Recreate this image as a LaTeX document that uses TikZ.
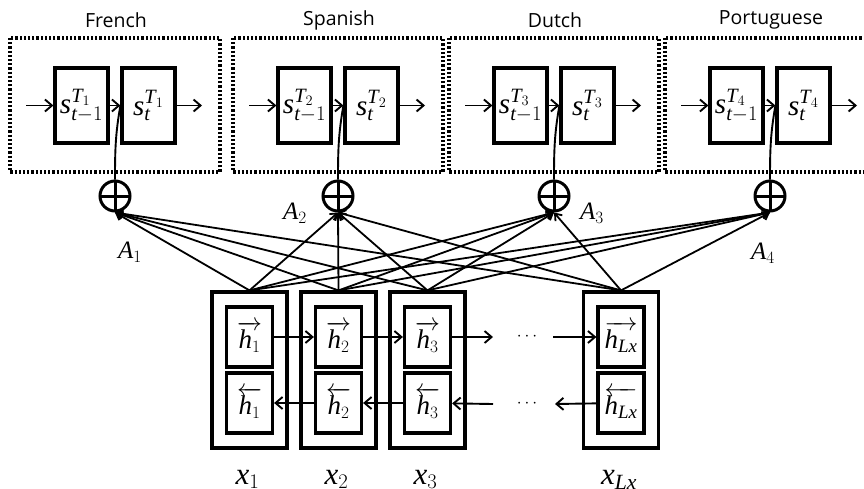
\documentclass[tikz,border=0pt]{standalone}
\usepackage{fontspec}
\setmainfont{Liberation Serif}
\setsansfont{Open Sans}
\usetikzlibrary{arrows.meta}
\tikzset{
  cell/.style={draw, line width=3.2pt, minimum width=53pt, minimum height=75pt, inner sep=0pt, font=\fontsize{29}{30}\selectfont},
  hcell/.style={draw, line width=3.2pt, minimum width=46pt, minimum height=60pt, inner sep=0pt, font=\fontsize{27}{28}\selectfont},
  col/.style={draw, line width=3.2pt, minimum width=75pt, minimum height=156pt, inner sep=0pt},
  langbox/.style={dash pattern=on 2.2pt off 2pt, line width=3.2pt},
  adder/.style={circle, draw, line width=3pt, minimum size=30pt, inner sep=0pt,
    path picture={\draw[line width=3pt] (path picture bounding box.north) -- (path picture bounding box.south)
      (path picture bounding box.west) -- (path picture bounding box.east);}},
  link/.style={line width=1.9pt, -{Straight Barb[length=7pt,width=12pt]}},
  attn/.style={line width=1.8pt, -{Straight Barb[length=6pt,width=9pt]}},
  mlabel/.style={font=\fontsize{25}{28}\selectfont},
}
\begin{document}
\begin{tikzpicture}[x=1pt,y=-1pt]
\useasboundingbox (0,0) rectangle (864,488);
\foreach \g/\lname/\i in {115/French/1, 338/Spanish/2, 554/Dutch/3, 770/Portuguese/4}{ % edit here for the decoders
  \draw[langbox] (\g-105,38) rectangle (\g+105,172);
  \node[font=\sffamily\fontsize{19.5}{22}\selectfont] (l\i) at (\g+1,20) {\lname};
  \node[cell] (sp\i) at (\g-33.5,105.5) {$\mathit{s}^{\mathit{T}_\i}_{\mathit{t}-1}$};
  \node[cell] (st\i) at (\g+33.5,105.5) {$\mathit{s}^{\mathit{T}_\i}_{\mathit{t}}$};
  \node[adder] (o\i) at (\g,196) {};
  \coordinate (in\i) at (\g-89,105.5);
  \coordinate (out\i) at (\g+87,105.5);
  \draw[link] (in\i) -- (sp\i);
  \draw[link] (sp\i) -- (st\i);
  \draw[link] (st\i) -- (out\i);
  \draw[line width=1.9pt] (o\i.north) to[out=90,in=-100] (st\i.west);
}
\foreach \x/\k/\s in {249.5/1/1, 338.5/2/2, 427.5/3/3, 621/L/\mathit{Lx}}{ % edit here for the encoder
  \node[col] (c\k) at (\x,370) {};
  \node[hcell] (hf\k) at (\x,337) {$\overrightarrow{\mathit{h}_{\s}}$};
  \node[hcell] (hb\k) at (\x,403) {$\overleftarrow{\mathit{h}_{\s}}$};
  \node[font=\fontsize{31}{32}\selectfont, anchor=base] (x\k) at (\x-2,484) {$\mathit{x}_{\s}$};
}
\node[font=\fontsize{17}{18}\selectfont] (d1) at (527,337) {$\cdots$};
\node[font=\fontsize{17}{18}\selectfont] (d2) at (527,404) {$\cdots$};
\coordinate (fa) at (493,337);
\coordinate (fb) at (553,337);
\coordinate (ba) at (493,404);
\coordinate (bb) at (555,404);
\draw[link] (hf1) -- (hf2);
\draw[link] (hf2) -- (hf3);
\draw[link] (hf3) -- (fa);
\draw[link] (fb) -- (hfL);
\draw[link] (hb2) -- (hb1);
\draw[link] (hb3) -- (hb2);
\draw[link] (ba) -- (hb3);
\draw[link] (hbL) -- (bb);
\foreach \k in {1,2,3,L} % edit here for the attention links
  \foreach \i in {1,...,4}
    \draw[attn] (c\k.north) -- (o\i.south);
\node[mlabel] (a1) at (130,252) {$\mathit{A}_1$};
\node[mlabel] (a2) at (295,213) {$\mathit{A}_2$};
\node[mlabel] (a3) at (592,213) {$\mathit{A}_3$};
\node[mlabel] (a4) at (763,253) {$\mathit{A}_4$};
\end{tikzpicture}
\end{document}
